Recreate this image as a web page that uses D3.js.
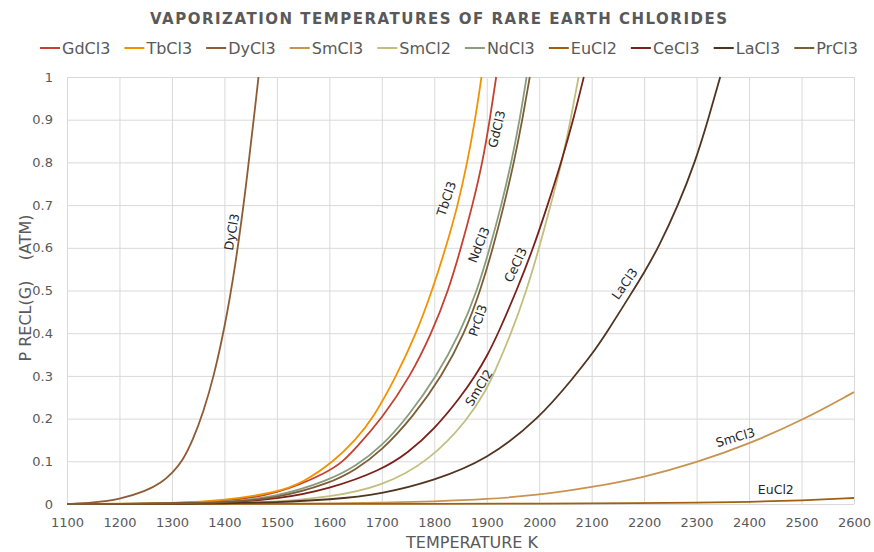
<!DOCTYPE html>
<html>
<head>
<meta charset="utf-8">
<script src="https://cdn.jsdelivr.net/npm/d3@7"></script>
<style>
  body { margin: 0; background: #fff; }
  svg { font-family: "DejaVu Sans", sans-serif; }
</style>
</head>
<body>
<div id="chart"></div>
<script>
// series names in legend order
var names = ["GdCl3", "TbCl3", "DyCl3", "SmCl3", "SmCl2", "NdCl3", "EuCl2", "CeCl3", "LaCl3", "PrCl3"];
var colors = ["#c4412f", "#f39200", "#8e5b33", "#c9934f", "#c2bf7e", "#8a9c7e", "#a0600f", "#7a2119", "#503420", "#7d5d36"];

// temperature (K) and pressure (atm), one pair of arrays per compound
var gdT = [1100, 1200, 1300, 1400, 1500, 1600, 1626, 1650, 1700, 1755, 1795, 1827, 1851, 1873, 1892, 1906, 1918];
var gdP = [0, 0.0004, 0.0015, 0.006, 0.022, 0.076, 0.1, 0.13, 0.2, 0.3, 0.4, 0.5, 0.6, 0.7, 0.8, 0.9, 1.0];
var tbT = [1100, 1200, 1300, 1400, 1500, 1550, 1609, 1650, 1683, 1728, 1766, 1796, 1822, 1845, 1863, 1878, 1890];
var tbP = [0, 0.0005, 0.002, 0.008, 0.027, 0.05, 0.1, 0.15, 0.2, 0.3, 0.4, 0.5, 0.6, 0.7, 0.8, 0.9, 1.0];
var dyT = [1100, 1150, 1200, 1250, 1280, 1300, 1320, 1340, 1360, 1380, 1400, 1420, 1440, 1460, 1465];
var dyP = [0, 0.003, 0.011, 0.03, 0.05, 0.072, 0.1, 0.15, 0.215, 0.3, 0.41, 0.55, 0.73, 0.945, 1.0];
var sm3T = [1100, 1300, 1500, 1600, 1700, 1800, 1900, 2000, 2100, 2200, 2300, 2400, 2500, 2600];
var sm3P = [0, 0.0002, 0.0008, 0.0015, 0.003, 0.006, 0.011, 0.021, 0.039, 0.0625, 0.097, 0.141, 0.195, 0.262];
var sm2T = [1100, 1300, 1400, 1500, 1600, 1700, 1790, 1866, 1900, 1912, 1947, 1976, 2000, 2022, 2043, 2060, 2075];
var sm2P = [0, 0.0003, 0.001, 0.005, 0.016, 0.041, 0.1, 0.2, 0.27, 0.3, 0.4, 0.5, 0.6, 0.7, 0.8, 0.9, 1.0];
var ndT = [1100, 1200, 1300, 1400, 1500, 1600, 1650, 1700, 1750, 1805, 1849, 1882, 1906, 1928, 1947, 1963, 1976];
var ndP = [0, 0.0003, 0.001, 0.004, 0.016, 0.056, 0.088, 0.135, 0.205, 0.3, 0.4, 0.5, 0.6, 0.7, 0.8, 0.9, 1.0];
var euT = [1100, 1500, 1800, 2000, 2200, 2300, 2400, 2500, 2600];
var euP = [0, 0.0001, 0.0004, 0.001, 0.002, 0.003, 0.005, 0.008, 0.014];
var ceT = [1100, 1200, 1300, 1400, 1500, 1600, 1700, 1750, 1800, 1850, 1878, 1900, 1922, 1957, 1989, 2016, 2042, 2065, 2085];
var ceP = [0, 0.0002, 0.0008, 0.003, 0.011, 0.035, 0.08, 0.12, 0.175, 0.25, 0.3, 0.345, 0.4, 0.5, 0.6, 0.7, 0.8, 0.9, 1.0];
var laT = [1100, 1300, 1400, 1500, 1600, 1700, 1800, 1900, 2000, 2068, 2100, 2128, 2179, 2200, 2227, 2265, 2297, 2322, 2345];
var laP = [0, 0.0005, 0.0015, 0.004, 0.01, 0.023, 0.055, 0.103, 0.2, 0.3, 0.35, 0.4, 0.5, 0.542, 0.6, 0.7, 0.8, 0.9, 1.0];
var prT = [1100, 1200, 1300, 1400, 1500, 1600, 1650, 1700, 1760, 1815, 1858, 1888, 1912, 1933, 1952, 1968, 1982];
var prP = [0, 0.0003, 0.001, 0.003, 0.013, 0.048, 0.08, 0.125, 0.205, 0.3, 0.4, 0.5, 0.6, 0.7, 0.8, 0.9, 1.0];

var temps = [gdT, tbT, dyT, sm3T, sm2T, ndT, euT, ceT, laT, prT];
var pressures = [gdP, tbP, dyP, sm3P, sm2P, ndP, euP, ceP, laP, prP];

// tick values and labels
var xTicks = [1100, 1200, 1300, 1400, 1500, 1600, 1700, 1800, 1900, 2000, 2100, 2200, 2300, 2400, 2500, 2600];
var yTicks = [0, 0.1, 0.2, 0.3, 0.4, 0.5, 0.6, 0.7, 0.8, 0.9, 1];
var yTickLabels = ["0", "0.1", "0.2", "0.3", "0.4", "0.5", "0.6", "0.7", "0.8", "0.9", "1"];

// in-chart curve labels: name, temperature, pressure, angle
var curveLabels = [
  ["DyCl3", 1414, 0.637, -80],
  ["TbCl3", 1823, 0.715, -71],
  ["GdCl3", 1919, 0.878, -76],
  ["NdCl3", 1885, 0.607, -68],
  ["PrCl3", 1883, 0.43, -71],
  ["CeCl3", 1955, 0.56, -65],
  ["SmCl2", 1885, 0.272, -58],
  ["LaCl3", 2163, 0.516, -55],
  ["SmCl3", 2374, 0.156, -16],
  ["EuCl2", 2451, 0.033, 0]
];

var W = 874, H = 552;
var plot = {left: 67, right: 854, top: 77, bottom: 504};

var svg = d3.select("#chart").append("svg")
  .attr("width", W)
  .attr("height", H);

var x = d3.scaleLinear().domain([1100, 2600]).range([plot.left, plot.right]);
var y = d3.scaleLinear().domain([0, 1]).range([plot.bottom, plot.top]);

// gridlines
svg.append("g")
  .attr("class", "grid")
  .attr("transform", "translate(0," + plot.bottom + ")")
  .call(d3.axisBottom(x).tickValues(xTicks).tickSize(-(plot.bottom - plot.top)).tickFormat(""));
svg.append("g")
  .attr("class", "grid")
  .attr("transform", "translate(" + plot.left + ",0)")
  .call(d3.axisLeft(y).tickValues(yTicks).tickSize(-(plot.right - plot.left)).tickFormat(""));
svg.selectAll(".grid .domain").remove();
svg.selectAll(".grid line").attr("stroke", "#d9d9d9").attr("stroke-width", 1);

// tick labels
var xAxis = svg.append("g")
  .attr("transform", "translate(0," + plot.bottom + ")")
  .call(d3.axisBottom(x).tickValues(xTicks).tickSize(0).tickPadding(14).tickFormat(d3.format("d")));
var yAxis = svg.append("g")
  .attr("transform", "translate(" + plot.left + ",0)")
  .call(d3.axisLeft(y).tickValues(yTicks).tickSize(0).tickPadding(14)
    .tickFormat(function(d, i) { return yTickLabels[i]; }));
[xAxis, yAxis].forEach(function(a) {
  a.select(".domain").remove();
  a.selectAll("text")
    .attr("fill", "#595959")
    .style("font-size", "13px")
    .style("font-family", "DejaVu Sans, sans-serif");
});

// clip the curves to the plot area
svg.append("clipPath").attr("id", "plotClip")
  .append("rect")
  .attr("x", plot.left).attr("y", plot.top - 1)
  .attr("width", plot.right - plot.left + 2)
  .attr("height", plot.bottom - plot.top + 2);

// smoothed lines, like the spreadsheet's smooth line option
var line = d3.line()
  .curve(d3.curveBasis)
  .x(function(d) { return x(d[0]); })
  .y(function(d) { return y(d[1]); });

var series = names.map(function(n, i) {
  return {name: n, color: colors[i], points: temps[i].map(function(t, j) { return [t, pressures[i][j]]; })};
});

svg.append("g")
  .attr("clip-path", "url(#plotClip)")
  .selectAll("path")
  .data(series)
  .enter().append("path")
    .attr("fill", "none")
    .attr("stroke", function(d) { return d.color; })
    .attr("stroke-width", 1.8)
    .attr("d", function(d) { return line(d.points); });

// curve labels
svg.append("g")
  .selectAll("text")
  .data(curveLabels)
  .enter().append("text")
    .attr("transform", function(d) { return "translate(" + x(d[1]) + "," + y(d[2]) + ") rotate(" + d[3] + ")"; })
    .attr("text-anchor", "middle")
    .attr("dy", "0.35em")
    .attr("fill", "#262626")
    .style("font-size", "12.5px")
    .text(function(d) { return d[0]; });

// title
svg.append("text")
  .attr("x", 150)
  .attr("y", 24)
  .attr("textLength", 577)
  .attr("lengthAdjust", "spacing")
  .attr("fill", "#595959")
  .style("font-size", "15px")
  .style("font-weight", "bold")
  .text("VAPORIZATION TEMPERATURES OF RARE EARTH CHLORIDES");

// legend
var legend = svg.append("g").attr("transform", "translate(0,48)");
var items = legend.selectAll("g")
  .data(series)
  .enter().append("g");
items.append("line")
  .attr("x1", 0).attr("x2", 20)
  .attr("y1", 0).attr("y2", 0)
  .attr("stroke", function(d) { return d.color; })
  .attr("stroke-width", 2);
items.append("text")
  .attr("x", 22)
  .attr("dy", "0.35em")
  .attr("fill", "#595959")
  .style("font-size", "16px")
  .text(function(d) { return d.name; });

var widths = [];
items.each(function() { widths.push(22 + d3.select(this).select("text").node().getComputedTextLength()); });
var legendLeft = 40, legendRight = 858;
var gap = (legendRight - legendLeft - d3.sum(widths)) / (widths.length - 1);
var pos = legendLeft;
items.attr("transform", function(d, i) {
  var t = "translate(" + pos + ",0)";
  pos += widths[i] + gap;
  return t;
});

// axis titles
svg.append("text")
  .attr("x", 472)
  .attr("y", 548)
  .attr("text-anchor", "middle")
  .attr("fill", "#595959")
  .style("font-size", "16px")
  .text("TEMPERATURE K");

svg.append("text")
  .attr("transform", "translate(25,288) rotate(-90)")
  .attr("text-anchor", "middle")
  .attr("dy", "0.35em")
  .attr("fill", "#595959")
  .style("font-size", "16px")
  .style("white-space", "pre")
  .text("P RECL(G)    (ATM)");
</script>
</body>
</html>
